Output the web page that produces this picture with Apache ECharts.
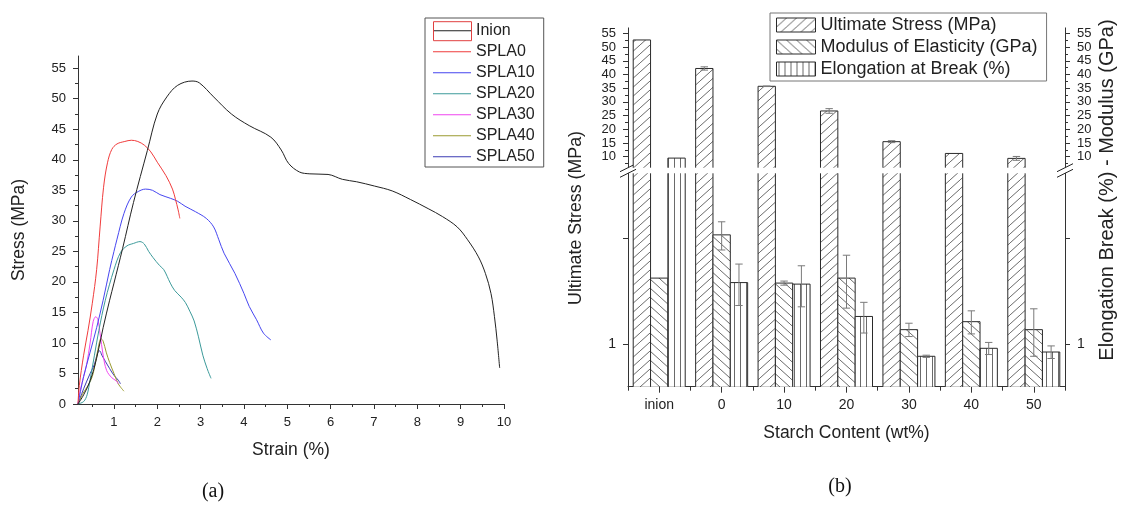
<!DOCTYPE html>
<html><head><meta charset="utf-8">
<script src="https://cdn.jsdelivr.net/npm/echarts@6/dist/echarts.min.js"></script>
<style>html,body{margin:0;padding:0;background:#fff}#c{width:1123px;height:511px}</style>
</head><body><div id="c"></div>
<script>
// ---------- data: chart (a) stress-strain curves ----------
const curveNames = ['Inion','SPLA0','SPLA10','SPLA20','SPLA30','SPLA40','SPLA50'];
const inion = [[0.17,0],[0.3,1.5],[0.45,3.8],[0.6,7.5],[0.75,12.5],[0.9,17],[1.0,19.8],[1.2,25.5],[1.45,33],[1.77,41.5],[2.0,47.5],[2.22,50.3],[2.47,52.2],[2.8,52.9],[2.97,52.6],[3.3,50.3],[3.71,47.5],[4.12,45.6],[4.62,43.7],[4.86,41.6],[5.03,39.4],[5.28,38],[5.52,37.7],[5.94,37.6],[6.27,36.8],[6.6,36.4],[7.01,35.7],[7.42,34.9],[7.84,33.5],[8.25,32.0],[8.58,30.7],[8.92,29.0],[9.16,26.9],[9.41,24.1],[9.57,21.4],[9.7,18.1],[9.78,14.3],[9.84,10.5],[9.9,5.9]];
const spla0 = [[0.17,0],[0.2,3],[0.3,8],[0.4,12],[0.5,16.5],[0.6,22],[0.68,29],[0.76,35.5],[0.85,39.5],[0.95,41.7],[1.07,42.6],[1.25,43.0],[1.4,43.2],[1.55,43.0],[1.7,42.4],[1.85,41.3],[2.0,39.6],[2.2,37.4],[2.35,35.2],[2.42,33.5],[2.48,31.8],[2.52,30.4]];
const spla10 = [[0.17,0],[0.3,4.5],[0.45,8.5],[0.6,12.5],[0.75,17],[0.9,22],[1.0,25],[1.07,27],[1.23,31.2],[1.4,33.9],[1.56,34.8],[1.73,35.2],[1.89,35.0],[2.06,34.3],[2.3,33.7],[2.47,33.2],[2.64,32.4],[2.88,31.5],[3.13,30.4],[3.3,29.0],[3.42,26.9],[3.54,24.7],[3.79,21.4],[4.0,18.1],[4.12,16],[4.29,13.8],[4.45,11.6],[4.62,10.5]];
const spla20 = [[0.17,0],[0.3,0.4],[0.38,1.5],[0.45,4],[0.55,8],[0.65,12],[0.8,17],[1.0,22],[1.15,24.8],[1.3,25.9],[1.45,26.3],[1.6,26.6],[1.7,26.2],[1.8,25],[1.9,24],[2.05,22.7],[2.15,22],[2.3,19.8],[2.4,18.6],[2.55,17.5],[2.65,16.6],[2.75,15.2],[2.85,13.6],[2.95,11],[3.05,8],[3.15,5.8],[3.24,4.2]];
const spla30 = [[0.17,0],[0.22,2.2],[0.3,4.5],[0.37,6.5],[0.45,10],[0.52,13.5],[0.58,14.3],[0.63,13.8],[0.68,11.5],[0.75,8],[0.83,5.5],[0.95,4.3],[1.05,3.8],[1.1,3.3]];
const spla40 = [[0.17,0],[0.29,1.8],[0.4,3],[0.5,4.5],[0.6,7.8],[0.66,10],[0.7,10.7],[0.75,10.3],[0.82,8.5],[0.9,6.8],[1.0,5],[1.1,3.3],[1.23,2.1]];
const spla50 = [[0.17,0],[0.3,2.5],[0.45,5],[0.55,6.5],[0.62,8.3],[0.67,8.7],[0.72,8],[0.8,7],[0.9,5.8],[1.0,4.7],[1.1,3.9],[1.15,3.3]];
const curves = [inion, spla0, spla10, spla20, spla30, spla40, spla50];
const strainTicks = [1,2,3,4,5,6,7,8,9,10];
const strainMinorTicks = [0.5,1.5,2.5,3.5,4.5,5.5,6.5,7.5,8.5,9.5];
const stressTicks = [0,5,10,15,20,25,30,35,40,45,50,55];
const stressMinorTicks = [2.5,7.5,12.5,17.5,22.5,27.5,32.5,37.5,42.5,47.5,52.5];

// ---------- data: chart (b) bars ----------
const categories = ['inion','0','10','20','30','40','50'];
const barNames = ['Ultimate Stress (MPa)','Modulus of Elasticity (GPa)','Elongation at Break (%)'];
const stress = [52.6, 42.2, 35.7, 26.7, 15.5, 11.2, 9.4];
const stressErr = [0, 0.6, 0.1, 0.85, 0.35, 0, 0.7];
const modulus = [1.98, 3.10, 1.88, 1.98, 1.16, 1.26, 1.16];
const modulusErr = [0, 0.45, 0.04, 0.53, 0.08, 0.15, 0.28];
const elongation = [9.5, 1.89, 1.86, 1.33, 0.88, 0.956, 0.92];
const elongationErr = [0, 0.4, 0.39, 0.21, 0.01, 0.06, 0.06];
const upperTicks = [10,15,20,25,30,35,40,45,50,55];
const upperMinorTicks = [7.5,12.5,17.5,22.5,27.5,32.5,37.5,42.5,47.5,52.5];
const lowerTicks = [1,3];
const lowerLabels = [1];

// ---------- styling ----------
const FONT = 'Liberation Sans, Arial, Helvetica, sans-serif';
const lineColors = ['#222222','#f03c3c','#4646f0','#3c9a9a','#f046f0','#9a9a30','#3c3cb4'];
const AX = '#333';
const CAT_GAP = 0.167;

function makePattern(type){
  const c = document.createElement('canvas');
  const w = type === 'v' ? 6 : 10, h = type === 'v' ? 6 : 9;
  c.width = w; c.height = h;
  const g = c.getContext('2d');
  g.fillStyle = '#fff'; g.fillRect(0,0,w,h);
  g.strokeStyle = '#6a6a6a'; g.lineWidth = 1;
  g.beginPath();
  if (type === 'v') { g.moveTo(2.5,0); g.lineTo(2.5,h); }
  else {
    for (let k = -1; k <= 1; k++) {
      if (type === '/') { g.moveTo(k*w, h); g.lineTo(k*w + w, 0); }
      else { g.moveTo(k*w, 0); g.lineTo(k*w + w, h); }
    }
  }
  g.stroke();
  return {image: c, repeat: 'repeat'};
}
const patterns = [makePattern('/'), makePattern('\\'), makePattern('v')];

function barRender(k){
  return function(params, api){
    const ci = api.value(0), v = api.value(1);
    const cs = params.coordSys;
    const band = api.size([1,0])[0];
    const bw = band*(1-CAT_GAP)/3;
    const p = api.coord([ci, v]);
    const x0 = p[0] - 1.5*bw + k*bw;
    const bottom = cs.y + cs.height;
    let top = p[1];
    const clipped = top < cs.y;
    if (clipped) top = cs.y;
    if (!(top < bottom)) return null;
    const ls = {stroke: '#2a2a2a', lineWidth: 1, fill: null};
    const children = [{type:'rect', shape:{x:x0, y:top, width:bw, height:bottom-top}, style:{fill: patterns[k]}}];
    if (clipped) {
      children.push({type:'line', shape:{x1:x0,y1:top,x2:x0,y2:bottom}, style:ls});
      children.push({type:'line', shape:{x1:x0+bw,y1:top,x2:x0+bw,y2:bottom}, style:ls});
    } else {
      children.push({type:'polyline', shape:{points:[[x0,bottom],[x0,top],[x0+bw,top],[x0+bw,bottom]]}, style:ls});
    }
    return {type:'group', children};
  };
}
function errRender(k){
  return function(params, api){
    const ci = api.value(0), lo = api.value(1), hi = api.value(2);
    if (!(hi > lo)) return null;
    const cs = params.coordSys;
    const band = api.size([1,0])[0];
    const bw = band*(1-CAT_GAP)/3;
    const a = api.coord([ci, lo]), b = api.coord([ci, hi]);
    if (b[1] < cs.y - 1 || a[1] > cs.y + cs.height + 1) return null;
    const xc = a[0] - 1.5*bw + k*bw + bw/2;
    const st = {stroke:'#7a7a7a', lineWidth:1};
    const cap = 3.7;
    return {type:'group', children:[
      {type:'line', shape:{x1:xc,y1:a[1],x2:xc,y2:b[1]}, style:st},
      {type:'line', shape:{x1:xc-cap,y1:b[1],x2:xc+cap,y2:b[1]}, style:st},
      {type:'line', shape:{x1:xc-cap,y1:a[1],x2:xc+cap,y2:a[1]}, style:st}
    ]};
  };
}

const barValues = [stress, modulus, elongation];
const errPairs = [[stress, stressErr],[modulus, modulusErr],[elongation, elongationErr]];

const series = [];
curveNames.forEach((n,i)=>{
  series.push({type:'line', name:n, xAxisIndex:0, yAxisIndex:0, data:curves[i], symbol:'none', showSymbol:false,
    smooth:0.35, lineStyle:{width:1, color:lineColors[i]}, itemStyle:{color:lineColors[i]}, z: 3 + (7-i)*0.01});
});
// upper segment (linear) and lower segment (log) of the broken axis
[[4,2],[2,6]].forEach(([xi, yi])=>{
  barValues.forEach((vals,k)=>{
    series.push({type:'custom', name:barNames[k], xAxisIndex:xi, yAxisIndex:yi, clip:false,
      data: vals.map((v,i)=>[i, v]), encode:{x:0, y:1}, renderItem: barRender(k), z:2,
      itemStyle:{color: patterns[k]}});
  });
});
[[4,2,[0]],[2,6,[1,2]]].forEach(([xi, yi, ks])=>{
  ks.forEach(k=>{
    const [vals, errs] = errPairs[k];
    series.push({type:'custom', name:'err'+k+'_'+yi, xAxisIndex:xi, yAxisIndex:yi, clip:false,
      data: vals.map((v,i)=>[i, v-errs[i], v+errs[i]]), encode:{x:0, y:[1,2]}, renderItem: errRender(k), z:4});
  });
});

const tickLabel = {fontFamily:FONT, color:'#222'};
const LINE_ICON = 'path://M0,0H38V0.01H0Z M0,6.5H38V7.5H0Z M0,13.99H38V14H0Z';

const option = {
  animation:false,
  backgroundColor:'#fff',
  textStyle:{fontFamily:FONT},
  grid:[
    {left:78, top:56, width:426, height:348},
    {left:628, top:27.9, width:437, height:139.8},
    {left:628, top:173.3, width:437, height:213.4}
  ],
  xAxis:[
    {type:'value', gridIndex:0, min:0.17, max:10, position:'bottom',
      axisLine:{show:true, lineStyle:{color:AX}}, splitLine:{show:false},
      axisTick:{show:true, length:5, customValues:strainTicks, lineStyle:{color:AX}},
      axisLabel:{...tickLabel, fontSize:13, margin:12, customValues:strainTicks},
      name:'Strain (%)', nameLocation:'middle', nameGap:37, nameTextStyle:{fontFamily:FONT, fontSize:17.5, color:'#222'}},
    {type:'value', gridIndex:0, min:0.17, max:10, position:'bottom',
      axisLine:{show:false}, splitLine:{show:false}, axisLabel:{show:false},
      axisTick:{show:true, length:3, customValues:strainMinorTicks, lineStyle:{color:AX}}},
    {type:'category', gridIndex:2, data:categories, position:'bottom',
      axisLine:{show:true, lineStyle:{color:AX}},
      axisTick:{show:true, alignWithLabel:true, length:6, lineStyle:{color:AX}},
      axisLabel:{fontFamily:FONT, color:'#222', fontSize:14, margin:11, interval:0},
      name:'Starch Content (wt%)', nameLocation:'middle', nameGap:37, nameTextStyle:{fontFamily:FONT, fontSize:17.5, color:'#222'}},
    {type:'category', gridIndex:2, data:categories, position:'bottom',
      axisLine:{show:false}, axisLabel:{show:false},
      axisTick:{show:true, alignWithLabel:false, length:4, lineStyle:{color:AX}}},
    {type:'category', gridIndex:1, data:categories, show:false}
  ],
  yAxis:[
    {type:'value', gridIndex:0, min:0, max:57, position:'left',
      axisLine:{show:true, lineStyle:{color:AX}}, splitLine:{show:false},
      axisTick:{show:true, length:5, customValues:stressTicks, lineStyle:{color:AX}},
      axisLabel:{...tickLabel, fontSize:13, margin:12, customValues:stressTicks},
      name:'Stress (MPa)', nameLocation:'middle', nameGap:50, nameTextStyle:{fontFamily:FONT, fontSize:17.5, color:'#222'}},
    {type:'value', gridIndex:0, min:0, max:57, position:'left',
      axisLine:{show:false}, splitLine:{show:false}, axisLabel:{show:false},
      axisTick:{show:true, length:3, customValues:stressMinorTicks, lineStyle:{color:AX}}},
    {type:'value', gridIndex:1, min:6, max:57, position:'left',
      axisLine:{show:true, lineStyle:{color:AX}}, splitLine:{show:false},
      axisTick:{show:true, length:5, customValues:upperTicks, lineStyle:{color:AX}},
      axisLabel:{...tickLabel, fontSize:13, margin:12, customValues:upperTicks}},
    {type:'value', gridIndex:1, min:6, max:57, position:'right',
      axisLine:{show:true, lineStyle:{color:AX}}, splitLine:{show:false},
      axisTick:{show:true, length:5, customValues:upperTicks, lineStyle:{color:AX}},
      axisLabel:{...tickLabel, fontSize:13, margin:12, customValues:upperTicks}},
    {type:'value', gridIndex:1, min:6, max:57, position:'left',
      axisLine:{show:false}, splitLine:{show:false}, axisLabel:{show:false},
      axisTick:{show:true, length:3, customValues:upperMinorTicks, lineStyle:{color:AX}}},
    {type:'value', gridIndex:1, min:6, max:57, position:'right',
      axisLine:{show:false}, splitLine:{show:false}, axisLabel:{show:false},
      axisTick:{show:true, length:3, customValues:upperMinorTicks, lineStyle:{color:AX}}},
    {type:'log', logBase:10, gridIndex:2, min:0.642, max:5.87, position:'left',
      axisLine:{show:true, lineStyle:{color:AX}}, splitLine:{show:false}, minorTick:{show:false},
      axisTick:{show:true, length:5, customValues:lowerTicks, lineStyle:{color:AX}},
      axisLabel:{...tickLabel, fontSize:14, margin:12, customValues:lowerLabels}},
    {type:'log', logBase:10, gridIndex:2, min:0.642, max:5.87, position:'right',
      axisLine:{show:true, lineStyle:{color:AX}}, splitLine:{show:false}, minorTick:{show:false},
      axisTick:{show:true, length:5, customValues:lowerTicks, lineStyle:{color:AX}},
      axisLabel:{...tickLabel, fontSize:14, margin:12, customValues:lowerLabels}}
  ],
  legend:[
    {data: curveNames.map((n,i)=>({name:n, icon:LINE_ICON, itemStyle:{color:lineColors[i], borderWidth:0}})),
      orient:'vertical', left:425, top:18, itemWidth:38, itemHeight:14, itemGap:5, padding:[4.7,9,2.3,8],
      borderColor:'#555', borderWidth:1, backgroundColor:'#fff', selectedMode:false, z:10,
      textStyle:{fontFamily:FONT, fontSize:16, color:'#222'}},
    {data:[{name:'Inion', icon:'rect', itemStyle:{color:'rgba(0,0,0,0)', borderColor:'#e04040', borderWidth:1}}],
      orient:'vertical', left:425, top:18, itemWidth:38, itemHeight:19, itemGap:5, padding:[3.2,9,2,8],
      borderWidth:0, backgroundColor:'rgba(0,0,0,0)', selectedMode:false, z:11,
      textStyle:{fontFamily:FONT, fontSize:16, color:'rgba(0,0,0,0)'}},
    {data: barNames.map((n,i)=>({name:n, icon:'rect', itemStyle:{color:patterns[i], borderColor:'#2a2a2a', borderWidth:1}})),
      orient:'vertical', left:770, top:13, itemWidth:39, itemHeight:14, itemGap:4, padding:[3,9,3,6],
      borderColor:'#777', borderWidth:1, backgroundColor:'#fff', selectedMode:false, z:10,
      textStyle:{fontFamily:FONT, fontSize:18, color:'#222'}}
  ],
  graphic:[
    {type:'text', x:576, y:218, rotation:Math.PI/2, style:{text:'Ultimate Stress (MPa)', font:'17.8px '+FONT, fill:'#222', align:'center', verticalAlign:'middle'}},
    {type:'text', x:1107, y:190, rotation:Math.PI/2, style:{text:'Elongation Break (%) - Modulus (GPa)', font:'20px '+FONT, fill:'#222', align:'center', verticalAlign:'middle'}},
    {type:'text', x:213, y:492, style:{text:'(a)', font:'20px Liberation Serif, Times New Roman, serif', fill:'#111', align:'center', verticalAlign:'middle'}},
    {type:'text', x:840, y:487, style:{text:'(b)', font:'20px Liberation Serif, Times New Roman, serif', fill:'#111', align:'center', verticalAlign:'middle'}},
    {type:'line', shape:{x1:620,y1:171.7,x2:636,y2:163.7}, style:{stroke:'#222', lineWidth:1}},
    {type:'line', shape:{x1:620,y1:177.3,x2:636,y2:169.3}, style:{stroke:'#222', lineWidth:1}},
    {type:'line', shape:{x1:1057,y1:171.7,x2:1073,y2:163.7}, style:{stroke:'#222', lineWidth:1}},
    {type:'line', shape:{x1:1057,y1:177.3,x2:1073,y2:169.3}, style:{stroke:'#222', lineWidth:1}}
  ],
  series
};
const chart = echarts.init(document.getElementById('c'), null, {renderer:'canvas'});
chart.setOption(option);
</script>
</body></html>
